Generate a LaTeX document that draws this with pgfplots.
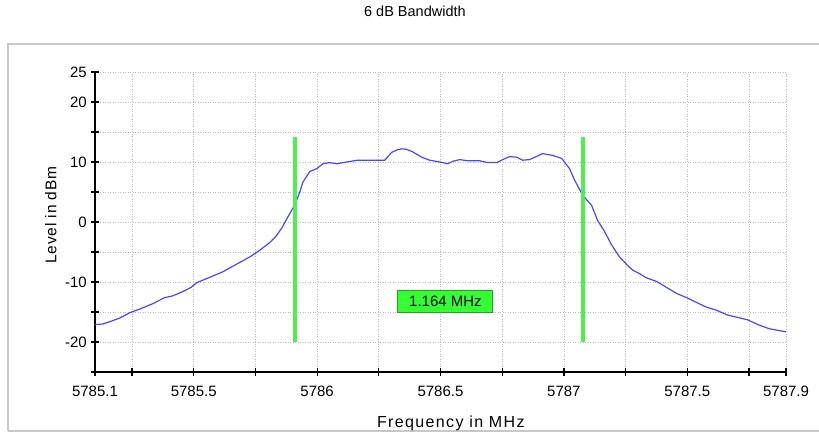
\documentclass[border=0pt]{standalone}
\usepackage{fontspec}
\setmainfont{Liberation Sans}
\usepackage{pgfplots}
\pgfplotsset{compat=1.18}
\usepackage{pgfplotstable}
\definecolor{curveblue}{RGB}{72,72,255}
\definecolor{markgreen}{RGB}{76,242,76}
\definecolor{boxgreen}{RGB}{51,255,51}
\definecolor{boxborder}{RGB}{40,160,40}
\definecolor{framegray}{RGB}{200,200,200}
\definecolor{gridgray}{RGB}{185,185,185}

\pgfplotstableread{
f lvl
5785.100 -17.1
5785.132 -17.0
5785.161 -16.6
5785.201 -16.0
5785.242 -15.1
5785.282 -14.5
5785.335 -13.6
5785.383 -12.6
5785.416 -12.3
5785.456 -11.6
5785.489 -10.9
5785.513 -10.1
5785.566 -9.2
5785.618 -8.3
5785.675 -7.0
5785.728 -5.8
5785.768 -4.7
5785.809 -3.4
5785.833 -2.4
5785.857 -1.0
5785.881 0.8
5785.910 2.9
5785.930 5.0
5785.942 6.6
5785.970 8.4
5785.999 8.9
5786.023 9.7
5786.051 9.9
5786.080 9.7
5786.120 10.0
5786.165 10.3
5786.274 10.3
5786.302 11.6
5786.323 12.0
5786.343 12.2
5786.363 12.1
5786.387 11.7
5786.424 10.8
5786.456 10.3
5786.497 10.0
5786.529 9.7
5786.549 10.1
5786.578 10.4
5786.610 10.2
5786.659 10.2
5786.691 9.9
5786.728 9.9
5786.752 10.4
5786.780 10.9
5786.809 10.8
5786.833 10.3
5786.861 10.4
5786.914 11.4
5786.954 11.1
5786.991 10.6
5787.023 8.9
5787.043 7.0
5787.072 4.8
5787.092 3.7
5787.112 2.8
5787.136 0.3
5787.165 -1.6
5787.193 -3.8
5787.225 -5.8
5787.257 -7.2
5787.278 -8.0
5787.306 -8.6
5787.334 -9.3
5787.375 -9.9
5787.416 -10.9
5787.456 -11.9
5787.497 -12.6
5787.537 -13.4
5787.578 -14.2
5787.618 -14.7
5787.663 -15.5
5787.744 -16.3
5787.792 -17.2
5787.833 -17.8
5787.900 -18.3
}\spectrum

\begin{document}
\fontsize{15bp}{18bp}\selectfont
\begin{tikzpicture}
\useasboundingbox (0,0) rectangle (819bp,432bp);
\draw[framegray, line width=1.5bp] (8bp,1bp) -- (8bp,388bp) -- (819bp,388bp);
\draw[framegray, line width=1.5bp] (8bp,1bp) -- (819bp,1bp);
\begin{axis}[
  at={(95bp,60bp)}, anchor=south west,
  scale only axis, width=691bp, height=300bp,
  xmin=5785.1, xmax=5787.9, ymin=-25, ymax=25,
  axis lines=left,
  axis line style={-, line width=1.2bp, black},
  xtick={5785.1,5785.25,5785.5,5785.75,5786,5786.25,5786.5,5786.75,5787,5787.25,5787.5,5787.75,5787.9},
  xticklabels={5785.1,,5785.5,,5786,,5786.5,,5787,,5787.5,,5787.9},
  ytick={-25,-20,-15,-10,-5,0,5,10,15,20,25},
  yticklabels={,-20,,-10,,0,,10,,20,25},
  tick align=center,
  major tick length=8bp,
  tick style={black, line width=1.2bp},
  grid=major,
  major grid style={gridgray, dash pattern=on 1bp off 1.5bp, line width=0.8bp},
  tick label style={font=\fontsize{15bp}{18bp}\selectfont},
  xticklabel style={yshift=-5bp},
  yticklabel style={xshift=1bp},
  xlabel={Frequency in MHz},
  ylabel={Level in dBm},
  xlabel style={at={(axis description cs:0.515,-0.172)}, anchor=center,
    font=\fontsize{16bp}{19bp}\selectfont\addfontfeatures{LetterSpace=8.5}},
  ylabel style={at={(axis description cs:-0.064,0.523)}, anchor=center,
    font=\fontsize{15.5bp}{18bp}\selectfont\addfontfeatures{LetterSpace=5.5}},
  title={6 dB Bandwidth},
  title style={at={(axis description cs:0.463,1.182)}, anchor=center, font=\fontsize{14.5bp}{17bp}\selectfont},
  clip=false,
]
\addplot[curveblue, line width=1.2bp] table[x=f, y=lvl] {\spectrum};
\addplot[markgreen, line width=4bp] coordinates {(5785.912,-20) (5785.912,14.2)};
\addplot[markgreen, line width=4bp] coordinates {(5787.076,-20) (5787.076,14.2)};
\node[fill=boxgreen, draw=boxborder, line width=1bp, minimum width=95bp, minimum height=22bp, inner sep=0pt, anchor=center]
  at (axis cs:5786.52,-13.3) {1.164 MHz};
\end{axis}
\end{tikzpicture}
\end{document}
